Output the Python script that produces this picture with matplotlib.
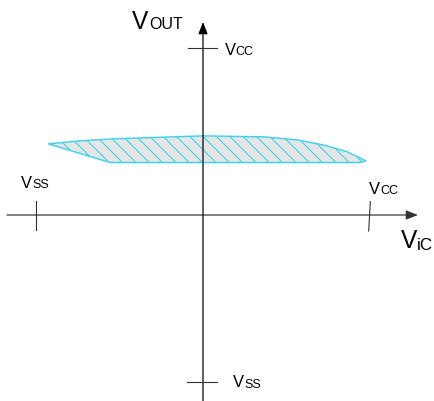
import matplotlib
matplotlib.use("Agg")
import matplotlib.pyplot as plt
from matplotlib.patches import Polygon

plt.rcParams['font.family'] = ['Liberation Sans', 'DejaVu Sans']
plt.rcParams['hatch.linewidth'] = 1.0

# ---- data (volts, normalised so that Vcc = +5, Vss = -5) ----
VCC = 5.0
VSS = -5.0
# boundary of the output-range region (upper edge left->right, then lower edge right->left)
region_x = [-4.63, -3.68, -2.69, 0.00, 1.81, 2.81, 3.60, 4.30, 4.88, 4.70, -2.78]
region_y = [2.13, 2.22, 2.28, 2.37, 2.34, 2.25, 2.10, 1.90, 1.62, 1.57, 1.57]
axis_labels = [("V", "OUT"), ("V", "iC")]
tick_labels = [("V", "CC"), ("V", "SS")]

DPI = 80
W, H = 434, 401
fig = plt.figure(figsize=(W / DPI, H / DPI), dpi=DPI)
ax = fig.add_axes([0, 0, 1, 1])
X0, Y0, S = 203.0, 215.0, 33.4   # origin position and scale in pixels
ax.set_xlim((0 - X0) / S, (W - X0) / S)
ax.set_ylim((Y0 - H) / S, Y0 / S)
ax.axis('off')

def X(p):
    return (p - X0) / S

def Y(p):
    return (Y0 - p) / S

# shaded region
poly = Polygon(list(zip(region_x, region_y)), closed=True, facecolor='#e6e6e6',
               edgecolor='#3fd3ea', hatch='\\\\', linewidth=1.3, zorder=2)
ax.add_patch(poly)

# axes with arrows
ax.annotate('', xy=(X(418), 0), xytext=(X(7), 0),
            arrowprops=dict(arrowstyle='-|>,head_length=0.9,head_width=0.35',
                            mutation_scale=10, color='#333333', lw=1.1,
                            shrinkA=0, shrinkB=0), zorder=3)
ax.annotate('', xy=(0, Y(22)), xytext=(0, Y(402)),
            arrowprops=dict(arrowstyle='-|>,head_length=0.9,head_width=0.35',
                            mutation_scale=10, color='black', lw=1.1,
                            shrinkA=0, shrinkB=0), zorder=3)

# tick marks
tk = dict(color='#333333', lw=1.0, zorder=3)
ax.plot([VSS, VSS], [Y(201), Y(230)], **tk)
ax.plot([VCC + 0.01, VCC - 0.04], [Y(201.5), Y(231)], **tk)
ax.plot([X(188), X(216.5)], [VCC, VCC], **tk)
ax.plot([X(187), X(216.5)], [VSS, VSS], **tk)

pt = 72 / DPI  # points per pixel

def label(pair, vx, vy, sx, sy, fmain, fsub):
    ax.text(X(vx), Y(vy), pair[0], fontsize=fmain * pt, ha='left', va='baseline', color='black')
    ax.text(X(sx), Y(sy), pair[1], fontsize=fsub * pt, ha='left', va='baseline', color='black')

# axis titles
label(axis_labels[0], 132, 28.7, 149.5, 29.2, 24.5, 16)
label(axis_labels[1], 401, 248.5, 417, 250.5, 24.5, 17)

# tick labels
label(tick_labels[0], 224.5, 54.8, 235.5, 55.3, 16.5, 12.5)
label(tick_labels[1], 21, 187.5, 32.5, 188.2, 16.5, 12.5)
label(tick_labels[0], 368.5, 193.5, 380, 194.5, 16.5, 12.5)
label(tick_labels[1], 233, 387, 244.5, 388, 16.5, 12.5)

fig.savefig('out.png', dpi=DPI)
